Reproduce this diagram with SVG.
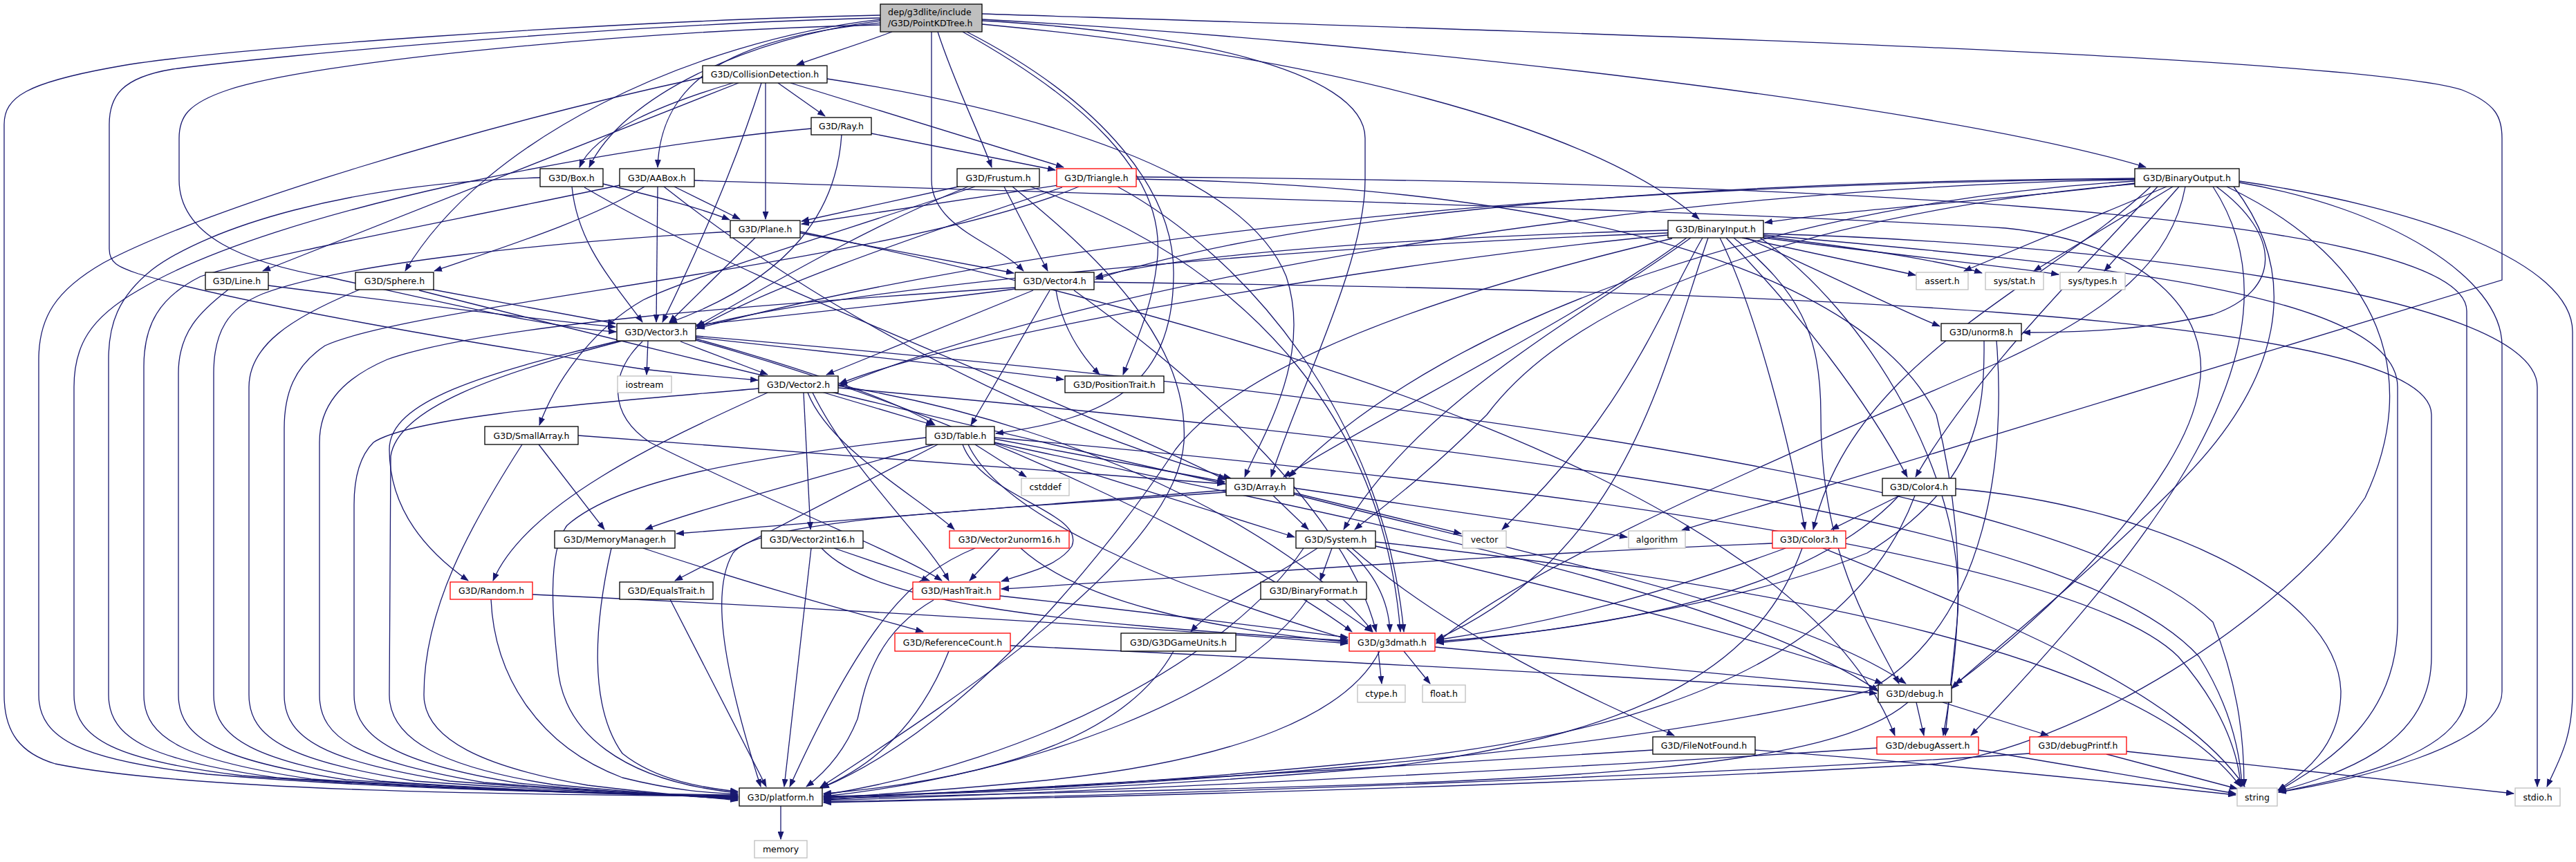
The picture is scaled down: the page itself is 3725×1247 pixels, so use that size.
<svg xmlns="http://www.w3.org/2000/svg" width="3725" height="1247" viewBox="0 0 3725 1247">
<style>
.n rect{fill:#fff;stroke:#000;stroke-width:1.3}
.n.r rect{stroke:#f00}
.n.g rect{stroke:#bfbfbf}
.n.root rect{fill:#bfbfbf}
text{font-family:"DejaVu Sans","Liberation Sans",sans-serif;font-size:12.5px;text-anchor:middle;fill:#000}
#edges path{fill:none;stroke:#191970;stroke-width:1.3;marker-end:url(#a)}
</style>
<defs>
<marker id="a" viewBox="0 0 12 9" refX="11" refY="4.5" markerWidth="12" markerHeight="9" markerUnits="userSpaceOnUse" orient="auto"><path d="M0,0 L12,4.5 L0,9 z" fill="#191970"/></marker>
</defs>
<rect width="3725" height="1247" fill="#fff"/>
<g id="edges">
<path d="M1290,46 C1240,65 1190,80 1152,94"/>
<path d="M1273,33 C1050,55 955,120 951,242"/>
<path d="M1273,30 C1080,55 900,140 852,242"/>
<path d="M1273,28 C1000,60 700,200 586,392"/>
<path d="M1356,46 C1380,120 1415,190 1434,242"/>
<path d="M1347,46 L1347,260 C1347,330 1440,350 1480,392"/>
<path d="M1392,46 C1560,140 1690,250 1673,380 C1665,450 1640,500 1624,542"/>
<path d="M1398,46 C1600,150 1700,280 1697,400 C1695,560 1600,605 1440,627"/>
<path d="M1420,30 C1700,45 1974,100 1974,200 L1974,260 C1974,380 1880,560 1838,690"/>
<path d="M1420,35 C1900,80 2300,180 2457,317"/>
<path d="M1420,28 C2000,60 2800,150 3103,242"/>
<path d="M1420,20 C2200,45 3400,80 3560,130 C3610,150 3618,170 3618,200 L3618,405 L2432,767"/>
<path d="M1273,22 C900,30 300,70 160,98 C40,120 6,140 6,180 L6,1005 C6,1060 30,1090 80,1105 C300,1150 900,1150 1067,1152"/>
<path d="M1273,36 C900,45 450,90 330,130 C270,150 259,170 259,200 L259,260 C259,340 350,380 480,402 C650,440 800,475 891,480"/>
<path d="M1273,26 C900,35 400,80 250,100 C175,112 158,140 158,180 L158,360 C158,380 170,386 200,396 C350,440 700,500 930,534 C1000,542 1060,547 1096,550"/>
<path d="M1125,120 L1193,168"/>
<path d="M1143,120 L1538,242"/>
<path d="M1107,120 L1107,317"/>
<path d="M1101,120 C1060,250 1000,380 958,466"/>
<path d="M1060,120 C960,150 860,190 838,242"/>
<path d="M1068,120 L380,392"/>
<path d="M1196,114 C1500,160 1800,250 1860,400 C1900,520 1820,640 1800,690"/>
<path d="M1016,112 C700,180 300,300 150,380 C80,420 56,460 56,520 L56,1005 C56,1070 120,1100 300,1120 C600,1145 900,1148 1067,1150"/>
<path d="M1260,193 L1526,246"/>
<path d="M1217,195 C1210,300 1150,400 968,467"/>
<path d="M1173,186 C900,210 400,300 200,420 C130,460 107,500 107,560 L107,1005 C107,1070 170,1100 350,1122 C650,1145 900,1148 1067,1151"/>
<path d="M872,266 C950,285 1010,300 1055,318"/>
<path d="M827,270 C835,350 880,400 929,466"/>
<path d="M845,271 C1100,420 1500,560 1772,694"/>
<path d="M781,257 C500,265 300,330 220,390 C170,430 157,470 157,520 L157,1005 C157,1070 220,1100 400,1125 C700,1145 950,1150 1067,1152"/>
<path d="M932,270 C850,320 720,360 628,392"/>
<path d="M975,270 L1070,317"/>
<path d="M951,270 L949,466"/>
<path d="M960,270 C1150,420 1450,600 1780,692"/>
<path d="M1004,261 C1700,285 2500,305 2900,330 C3100,350 3200,450 3180,560 C3160,700 2950,900 2827,990"/>
<path d="M896,268 C600,330 380,370 290,400 C230,430 208,470 208,530 L208,1005 C208,1070 270,1100 450,1127 C750,1147 950,1150 1067,1153"/>
<path d="M1386,270 L1159,320"/>
<path d="M1452,270 L1515,392"/>
<path d="M1410,270 C1200,340 1000,400 930,434 C850,480 800,560 780,615"/>
<path d="M1400,270 C1250,330 1100,420 1007,472"/>
<path d="M1464,270 C1600,380 1720,500 1712,640 C1700,800 1400,1000 1186,1139"/>
<path d="M1490,270 C1800,380 2000,600 2025,914"/>
<path d="M1530,268 L1159,324"/>
<path d="M1536,271 C1300,350 1100,420 1007,476"/>
<path d="M1616,270 C1800,370 2000,600 2030,914"/>
<path d="M1643,259 C2300,270 2700,400 2800,600 C2850,800 2830,950 2810,1064"/>
<path d="M1643,256 C2500,262 3567,300 3567,450 L3567,1000 C3567,1090 3400,1125 3295,1146"/>
<path d="M1560,270 C1300,380 600,440 470,500 C425,530 411,570 411,620 L411,1005 C411,1070 470,1100 650,1130 C880,1148 990,1150 1067,1154"/>
<path d="M1092,344 L968,466"/>
<path d="M1157,337 L1466,395"/>
<path d="M1157,335 C1800,470 2600,700 2740,1064"/>
<path d="M1056,335 C800,350 500,380 380,425 C330,445 309,480 309,540 L309,1005 C309,1070 370,1100 550,1130 C800,1148 980,1150 1067,1154"/>
<path d="M388,413 C600,440 800,465 890,473"/>
<path d="M330,419 C290,450 258,480 258,540 L258,1005 C258,1070 320,1100 500,1128 C800,1148 980,1150 1067,1153"/>
<path d="M626,419 L890,468"/>
<path d="M606,420 C1000,520 1500,640 1772,700"/>
<path d="M520,419 C420,460 360,500 360,560 L360,1005 C360,1070 420,1100 600,1130 C850,1148 990,1150 1067,1155"/>
<path d="M1468,418 C1300,440 1100,460 1007,470"/>
<path d="M1494,420 L1195,542"/>
<path d="M1518,420 L1404,615"/>
<path d="M1527,420 C1535,470 1560,510 1590,542"/>
<path d="M1553,420 C1750,560 1950,750 1990,914"/>
<path d="M1582,408 C2500,420 3516,450 3516,600 L3516,950 C3516,1080 3380,1120 3295,1145"/>
<path d="M1468,416 C1100,440 700,470 560,520 C490,550 462,590 462,640 L462,1005 C462,1070 520,1100 700,1132 C900,1148 1000,1150 1067,1156"/>
<path d="M937,493 L935,542"/>
<path d="M984,494 L1110,542"/>
<path d="M1006,488 C1200,510 1400,530 1538,549"/>
<path d="M1006,490 C1150,530 1300,580 1352,615"/>
<path d="M1006,486 C2000,570 3000,700 3200,900 C3240,1000 3245,1080 3245,1138"/>
<path d="M895,493 C700,540 563,580 563,650 C563,740 620,800 677,840"/>
<path d="M900,493 C720,540 575,590 565,660 L563,1005 C563,1070 640,1110 800,1135 C950,1150 1020,1152 1067,1157"/>
<path d="M929,494 C880,540 880,600 940,640 C1100,720 1300,800 1362,840"/>
<path d="M1006,492 C1400,600 1800,800 1955,914"/>
<path d="M1162,568 L1172,766"/>
<path d="M1168,568 C1200,650 1330,720 1380,766"/>
<path d="M1188,567 L1350,615"/>
<path d="M1175,568 C1230,680 1340,780 1372,840"/>
<path d="M1110,568 C950,640 760,730 713,840"/>
<path d="M1097,562 C900,580 600,600 540,640 C520,660 512,690 512,730 L512,1005 C512,1070 580,1105 750,1133 C920,1150 1010,1152 1067,1156"/>
<path d="M1212,558 C1600,620 1900,800 1985,914"/>
<path d="M1212,561 C2200,650 3000,750 3180,950 C3230,1030 3240,1100 3242,1138"/>
<path d="M836,630 L1771,700"/>
<path d="M779,643 L874,766"/>
<path d="M755,643 C680,760 613,880 613,1005 C613,1070 700,1110 850,1136 C980,1152 1030,1153 1067,1158"/>
<path d="M1438,635 L1771,697"/>
<path d="M1350,643 C1150,700 1000,740 933,766"/>
<path d="M1356,643 L976,840"/>
<path d="M1392,643 C1420,720 1570,740 1550,790 C1530,820 1480,830 1448,841"/>
<path d="M1410,643 L1484,690"/>
<path d="M1438,641 L1872,777"/>
<path d="M1400,643 C1450,750 1700,850 1949,925"/>
<path d="M1438,640 C1900,740 2500,850 2716,1000"/>
<path d="M1438,633 C2200,700 3000,800 3150,950 C3220,1030 3238,1100 3240,1138"/>
<path d="M1339,633 C1100,660 900,690 820,760 C790,800 800,900 806,960 C812,1060 900,1130 1067,1147"/>
<path d="M1773,709 L978,772"/>
<path d="M1773,712 C1400,740 1100,750 1060,800 C1030,850 1040,950 1100,1138"/>
<path d="M1841,717 L1892,766"/>
<path d="M1871,713 L2113,772"/>
<path d="M1871,706 C2100,740 2250,760 2353,777"/>
<path d="M1871,715 C2200,800 2600,880 2756,989"/>
<path d="M930,793 C1100,850 1250,890 1335,914"/>
<path d="M884,793 C860,900 850,1020 900,1090 C950,1130 1020,1140 1067,1145"/>
<path d="M1206,793 L1344,840"/>
<path d="M1188,793 C1260,870 1500,900 1949,927"/>
<path d="M1173,793 L1134,1138"/>
<path d="M1446,793 L1402,840"/>
<path d="M1476,793 C1560,870 1750,910 1949,929"/>
<path d="M1410,793 C1320,830 1250,900 1142,1138"/>
<path d="M770,860 C1200,880 1700,910 1949,931"/>
<path d="M710,867 C715,980 780,1080 900,1125 C980,1145 1030,1147 1067,1149"/>
<path d="M969,867 L1108,1138"/>
<path d="M1446,862 C1700,890 1850,910 1949,922"/>
<path d="M1350,868 C1260,920 1250,1000 1240,1040 C1220,1090 1190,1120 1166,1138"/>
<path d="M1461,934 C1900,955 2400,980 2714,1003"/>
<path d="M1372,942 C1330,1050 1260,1110 1186,1140"/>
<path d="M1697,942 C1620,1080 1400,1130 1191,1148"/>
<path d="M1905,793 C1850,830 1750,880 1722,914"/>
<path d="M1926,793 L1909,840"/>
<path d="M1947,793 C1990,830 2008,870 2010,914"/>
<path d="M1955,793 C2100,920 2300,1010 2421,1064"/>
<path d="M1989,790 C2300,860 2600,940 2722,989"/>
<path d="M1885,793 C1780,950 1500,1100 1191,1150"/>
<path d="M1989,784 C2600,850 3100,950 3240,1138"/>
<path d="M1917,867 L1984,914"/>
<path d="M1890,868 C1800,1000 1500,1120 1191,1152"/>
<path d="M2747,717 L2648,766"/>
<path d="M2746,717 C2650,820 2450,900 2077,928"/>
<path d="M2828,707 C3100,730 3380,850 3385,1000 C3385,1080 3330,1120 3294,1143"/>
<path d="M2769,717 C2700,900 2500,1050 2000,1100 C1600,1140 1300,1150 1191,1153"/>
<path d="M2563,786 C2200,800 1800,830 1448,852"/>
<path d="M2582,793 C2400,860 2250,900 2077,926"/>
<path d="M2606,793 C2550,950 2400,1060 2000,1110 C1600,1145 1300,1150 1191,1152"/>
<path d="M2636,793 C2900,900 3150,1000 3246,1138"/>
<path d="M2869,493 C2870,600 2860,700 2700,800 C2500,880 2200,920 2077,930"/>
<path d="M2887,493 C2900,650 2880,900 2700,1000 C2300,1100 1600,1140 1191,1154"/>
<path d="M1993,942 L1998,989"/>
<path d="M2030,942 L2068,989"/>
<path d="M2075,936 L2714,996"/>
<path d="M1995,942 C1950,1030 1800,1100 1500,1130 C1350,1145 1250,1150 1191,1155"/>
<path d="M2771,1016 L2782,1064"/>
<path d="M2809,1016 L2962,1064"/>
<path d="M2759,1016 C2650,1110 2300,1130 1600,1145 C1400,1150 1250,1153 1191,1156"/>
<path d="M2390,1085 C2000,1110 1500,1140 1191,1157"/>
<path d="M2538,1085 C2800,1105 3050,1130 3233,1150"/>
<path d="M2714,1082 C2300,1110 1600,1145 1191,1158"/>
<path d="M2861,1085 L3233,1148"/>
<path d="M3046,1091 L3235,1141"/>
<path d="M3075,1087 L3635,1148"/>
<path d="M2935,1090 C2500,1120 1700,1150 1191,1160"/>
<path d="M2412,333 C2000,345 1700,370 1584,401"/>
<path d="M2412,337 C1800,360 1200,420 1008,473"/>
<path d="M2412,340 C2000,380 1400,480 1214,555"/>
<path d="M2439,344 C2300,450 2000,600 1856,690"/>
<path d="M2445,344 C2300,450 2050,580 1943,766"/>
<path d="M2462,344 C2400,450 2350,600 2172,766"/>
<path d="M2470,344 C2400,550 2350,800 2077,925"/>
<path d="M2496,344 C2600,450 2700,580 2758,690"/>
<path d="M2487,344 C2540,450 2590,650 2610,766"/>
<path d="M2525,344 C2650,400 2750,450 2805,472"/>
<path d="M2519,344 L2770,398"/>
<path d="M2550,342 C2700,360 2820,380 2866,395"/>
<path d="M2550,344 C2750,370 2900,385 2977,397"/>
<path d="M2507,344 C2600,420 2633,480 2633,600 C2633,800 2700,900 2746,989"/>
<path d="M2550,340 C3000,380 3467,420 3467,560 L3467,900 C3467,1050 3350,1110 3295,1144"/>
<path d="M2418,345 C2100,420 1800,520 1700,650 C1600,800 1400,1050 1188,1140"/>
<path d="M2545,344 C2700,450 2850,700 2830,900 C2820,1000 2815,1040 2813,1064"/>
<path d="M2550,338 C3000,350 3669,420 3669,560 L3669,1138"/>
<path d="M3087,265 C2900,290 2700,300 2552,322"/>
<path d="M3087,258 C2500,262 1900,300 1584,404"/>
<path d="M3087,259 C2400,265 1600,320 1008,475"/>
<path d="M3087,260 C2400,270 1600,400 1214,558"/>
<path d="M3087,262 C2600,290 2100,450 1864,690"/>
<path d="M3087,266 C2700,300 2300,400 2150,600 C2050,700 1990,740 1959,766"/>
<path d="M3120,270 C3000,400 2850,550 2770,690"/>
<path d="M3110,270 C2950,420 2680,520 2622,766"/>
<path d="M3205,270 C3300,340 3300,420 3200,455 C3100,478 3000,481 2925,481"/>
<path d="M3133,270 L2840,392"/>
<path d="M3142,270 L2941,392"/>
<path d="M3151,270 L3043,392"/>
<path d="M3160,270 C3140,380 3050,450 2900,520 C2600,650 2200,820 2077,931"/>
<path d="M3230,270 C3330,400 3300,550 3150,700 C3000,850 2870,950 2822,996"/>
<path d="M3200,270 C3350,500 3100,800 2850,1064"/>
<path d="M3238,264 C3450,300 3618,400 3618,500 L3618,1000 C3618,1080 3400,1130 3295,1146"/>
<path d="M3238,262 C3500,300 3720,380 3720,480 L3720,1000 C3720,1070 3700,1100 3683,1138"/>
<path d="M3220,270 C3450,380 3500,550 3420,720 C3300,900 3000,1080 2800,1105 C2200,1140 1500,1155 1191,1161"/>
<path d="M1129,1166 L1129,1214"/>
</g>
<g id="n-root" class="n root"><rect x="1273" y="6" width="147" height="40"/><text x="1284" y="22" style="text-anchor:start">dep/g3dlite/include</text><text x="1284" y="38" style="text-anchor:start">/G3D/PointKDTree.h</text></g>
<g id="n-collision" class="n"><rect x="1016" y="95" width="180" height="25"/><text x="1106" y="112">G3D/CollisionDetection.h</text></g>
<g id="n-ray" class="n"><rect x="1173" y="170" width="87" height="25"/><text x="1216.5" y="187">G3D/Ray.h</text></g>
<g id="n-box" class="n"><rect x="781" y="244" width="91" height="26"/><text x="826.5" y="261.5">G3D/Box.h</text></g>
<g id="n-aabox" class="n"><rect x="896" y="244" width="108" height="26"/><text x="950" y="261.5">G3D/AABox.h</text></g>
<g id="n-frustum" class="n"><rect x="1384" y="244" width="119" height="26"/><text x="1443.5" y="261.5">G3D/Frustum.h</text></g>
<g id="n-triangle" class="n r"><rect x="1528" y="244" width="115" height="26"/><text x="1585.5" y="261.5">G3D/Triangle.h</text></g>
<g id="n-binout" class="n"><rect x="3087" y="244" width="151" height="26"/><text x="3162.5" y="261.5">G3D/BinaryOutput.h</text></g>
<g id="n-plane" class="n"><rect x="1056" y="319" width="101" height="25"/><text x="1106.5" y="336">G3D/Plane.h</text></g>
<g id="n-binin" class="n"><rect x="2412" y="319" width="138" height="25"/><text x="2481" y="336">G3D/BinaryInput.h</text></g>
<g id="n-line" class="n"><rect x="297" y="394" width="91" height="25"/><text x="342.5" y="411">G3D/Line.h</text></g>
<g id="n-sphere" class="n"><rect x="514" y="394" width="113" height="25"/><text x="570.5" y="411">G3D/Sphere.h</text></g>
<g id="n-vector4" class="n"><rect x="1468" y="394" width="114" height="25"/><text x="1525" y="411">G3D/Vector4.h</text></g>
<g id="n-assert" class="n g"><rect x="2771" y="394" width="75" height="25"/><text x="2808.5" y="411">assert.h</text></g>
<g id="n-stat" class="n g"><rect x="2871" y="394" width="84" height="25"/><text x="2913" y="411">sys/stat.h</text></g>
<g id="n-types" class="n g"><rect x="2979" y="394" width="94" height="25"/><text x="3026" y="411">sys/types.h</text></g>
<g id="n-vector3" class="n"><rect x="892" y="468" width="114" height="25"/><text x="949" y="485">G3D/Vector3.h</text></g>
<g id="n-unorm8" class="n"><rect x="2807" y="468" width="116" height="25"/><text x="2865" y="485">G3D/unorm8.h</text></g>
<g id="n-iostream" class="n g"><rect x="893" y="544" width="78" height="24"/><text x="932" y="560.5">iostream</text></g>
<g id="n-vector2" class="n"><rect x="1097" y="544" width="115" height="24"/><text x="1154.5" y="560.5">G3D/Vector2.h</text></g>
<g id="n-postrait" class="n"><rect x="1540" y="544" width="143" height="24"/><text x="1611.5" y="560.5">G3D/PositionTrait.h</text></g>
<g id="n-smallarray" class="n"><rect x="701" y="617" width="135" height="26"/><text x="768.5" y="634.5">G3D/SmallArray.h</text></g>
<g id="n-table" class="n"><rect x="1339" y="617" width="99" height="26"/><text x="1388.5" y="634.5">G3D/Table.h</text></g>
<g id="n-cstddef" class="n g"><rect x="1477" y="692" width="69" height="25"/><text x="1511.5" y="709">cstddef</text></g>
<g id="n-array" class="n"><rect x="1773" y="692" width="98" height="25"/><text x="1822" y="709">G3D/Array.h</text></g>
<g id="n-color4" class="n"><rect x="2722" y="692" width="106" height="25"/><text x="2775" y="709">G3D/Color4.h</text></g>
<g id="n-memmgr" class="n"><rect x="802" y="768" width="174" height="25"/><text x="889" y="785">G3D/MemoryManager.h</text></g>
<g id="n-v2i16" class="n"><rect x="1101" y="768" width="147" height="25"/><text x="1174.5" y="785">G3D/Vector2int16.h</text></g>
<g id="n-v2u16" class="n r"><rect x="1373" y="768" width="173" height="25"/><text x="1459.5" y="785">G3D/Vector2unorm16.h</text></g>
<g id="n-system" class="n"><rect x="1874" y="768" width="115" height="25"/><text x="1931.5" y="785">G3D/System.h</text></g>
<g id="n-vector" class="n g"><rect x="2115" y="768" width="63" height="25"/><text x="2146.5" y="785">vector</text></g>
<g id="n-algorithm" class="n g"><rect x="2355" y="768" width="82" height="25"/><text x="2396" y="785">algorithm</text></g>
<g id="n-color3" class="n r"><rect x="2563" y="768" width="106" height="25"/><text x="2616" y="785">G3D/Color3.h</text></g>
<g id="n-random" class="n r"><rect x="651" y="842" width="119" height="25"/><text x="710.5" y="859">G3D/Random.h</text></g>
<g id="n-equals" class="n"><rect x="896" y="842" width="135" height="25"/><text x="963.5" y="859">G3D/EqualsTrait.h</text></g>
<g id="n-hashtrait" class="n r"><rect x="1320" y="842" width="126" height="25"/><text x="1383" y="859">G3D/HashTrait.h</text></g>
<g id="n-binformat" class="n"><rect x="1823" y="842" width="153" height="25"/><text x="1899.5" y="859">G3D/BinaryFormat.h</text></g>
<g id="n-refcount" class="n r"><rect x="1294" y="916" width="167" height="26"/><text x="1377.5" y="933.5">G3D/ReferenceCount.h</text></g>
<g id="n-gameunits" class="n"><rect x="1621" y="916" width="166" height="26"/><text x="1704" y="933.5">G3D/G3DGameUnits.h</text></g>
<g id="n-g3dmath" class="n r"><rect x="1951" y="916" width="124" height="26"/><text x="2013" y="933.5">G3D/g3dmath.h</text></g>
<g id="n-ctype" class="n g"><rect x="1963" y="991" width="69" height="25"/><text x="1997.5" y="1008">ctype.h</text></g>
<g id="n-float" class="n g"><rect x="2057" y="991" width="62" height="25"/><text x="2088" y="1008">float.h</text></g>
<g id="n-debug" class="n"><rect x="2716" y="991" width="106" height="25"/><text x="2769" y="1008">G3D/debug.h</text></g>
<g id="n-filenotfound" class="n"><rect x="2390" y="1066" width="148" height="25"/><text x="2464" y="1083">G3D/FileNotFound.h</text></g>
<g id="n-debugassert" class="n r"><rect x="2714" y="1066" width="147" height="25"/><text x="2787.5" y="1083">G3D/debugAssert.h</text></g>
<g id="n-debugprintf" class="n r"><rect x="2935" y="1066" width="140" height="25"/><text x="3005" y="1083">G3D/debugPrintf.h</text></g>
<g id="n-platform" class="n"><rect x="1069" y="1140" width="120" height="26"/><text x="1129" y="1157.5">G3D/platform.h</text></g>
<g id="n-string" class="n g"><rect x="3235" y="1140" width="58" height="26"/><text x="3264" y="1157.5">string</text></g>
<g id="n-stdio" class="n g"><rect x="3637" y="1140" width="65" height="26"/><text x="3669.5" y="1157.5">stdio.h</text></g>
<g id="n-memory" class="n g"><rect x="1091" y="1216" width="76" height="25"/><text x="1129" y="1233">memory</text></g>
</svg>
